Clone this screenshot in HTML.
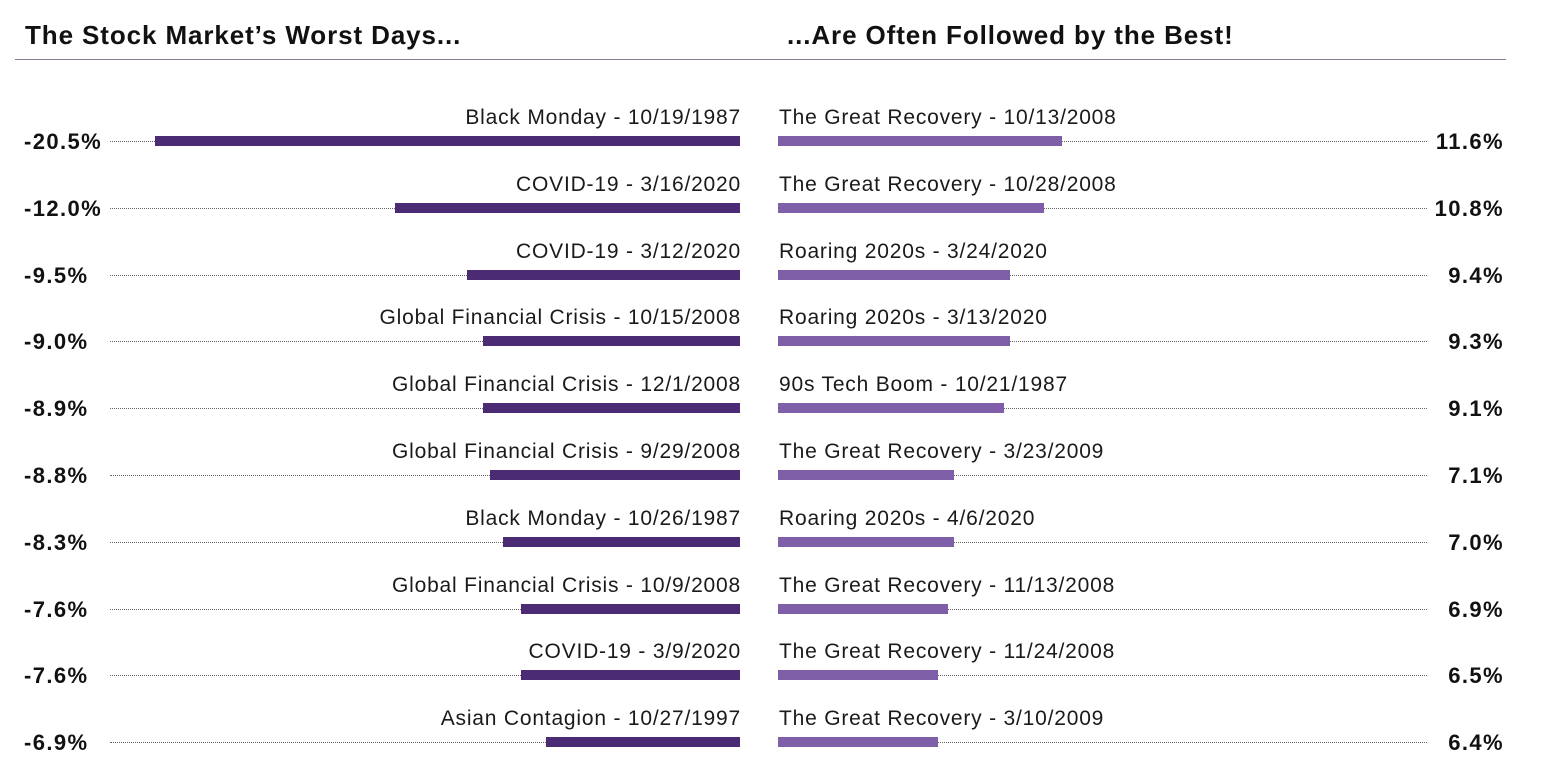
<!DOCTYPE html>
<html><head><style>
body{margin:0;background:#fff;width:1541px;height:779px;overflow:hidden;font-family:"Liberation Sans",sans-serif;position:relative}
.a{position:absolute;white-space:nowrap}
.t{font-weight:bold;font-size:26px;letter-spacing:0.9px;top:20px;color:#111}
.l{font-size:21px;letter-spacing:0.8px;color:#1a1a1a}
.v{font-weight:bold;font-size:22px;letter-spacing:1.4px;color:#111}
.b{position:absolute;height:10px}
.d{position:absolute;border-top:1px dotted #666;height:0}
</style></head><body>
<div class="a t" style="left:25px">The Stock Market’s Worst Days...</div>
<div class="a t" style="left:787px">...Are Often Followed by the Best!</div>
<div style="position:absolute;left:15px;top:59px;width:1491px;height:1px;background:#8a7a9a"></div>
<div id="c"></div>
<script>
const L=[["Black Monday - 10/19/1987","-20.5%",155],["COVID-19 - 3/16/2020","-12.0%",395],["COVID-19 - 3/12/2020","-9.5%",467],["Global Financial Crisis - 10/15/2008","-9.0%",483],["Global Financial Crisis - 12/1/2008","-8.9%",483],["Global Financial Crisis - 9/29/2008","-8.8%",490],["Black Monday - 10/26/1987","-8.3%",503],["Global Financial Crisis - 10/9/2008","-7.6%",521],["COVID-19 - 3/9/2020","-7.6%",521],["Asian Contagion - 10/27/1997","-6.9%",546]];
const R=[["The Great Recovery - 10/13/2008","11.6%",1062],["The Great Recovery - 10/28/2008","10.8%",1044],["Roaring 2020s - 3/24/2020","9.4%",1010],["Roaring 2020s - 3/13/2020","9.3%",1010],["90s Tech Boom - 10/21/1987","9.1%",1004],["The Great Recovery - 3/23/2009","7.1%",954],["Roaring 2020s - 4/6/2020","7.0%",954],["The Great Recovery - 11/13/2008","6.9%",948],["The Great Recovery - 11/24/2008","6.5%",938],["The Great Recovery - 3/10/2009","6.4%",938]];
let h="";
for(let i=0;i<10;i++){const y=141+i*66.8;
h+=`<div class="a l" style="right:${1541-741}px;top:${y-35}px">${L[i][0]}</div>`;
h+=`<div class="a l" style="left:779px;top:${y-35}px">${R[i][0]}</div>`;
h+=`<div class="b" style="left:${L[i][2]}px;width:${740-L[i][2]}px;top:${y-5}px;background:#4b2c74"></div>`;
h+=`<div class="b" style="left:778px;width:${R[i][2]-778}px;top:${y-5}px;background:#7f60a8"></div>`;
h+=`<div class="d" style="left:110px;width:${L[i][2]-110}px;top:${y}px"></div>`;
h+=`<div class="d" style="left:${R[i][2]}px;width:${1427-R[i][2]}px;top:${y}px"></div>`;
h+=`<div class="a v" style="left:24px;top:${y-12}px">${L[i][1]}</div>`;
h+=`<div class="a v" style="right:${1541-1504}px;top:${y-12}px">${R[i][1]}</div>`;}
document.getElementById("c").innerHTML=h;
</script>
</body></html>
